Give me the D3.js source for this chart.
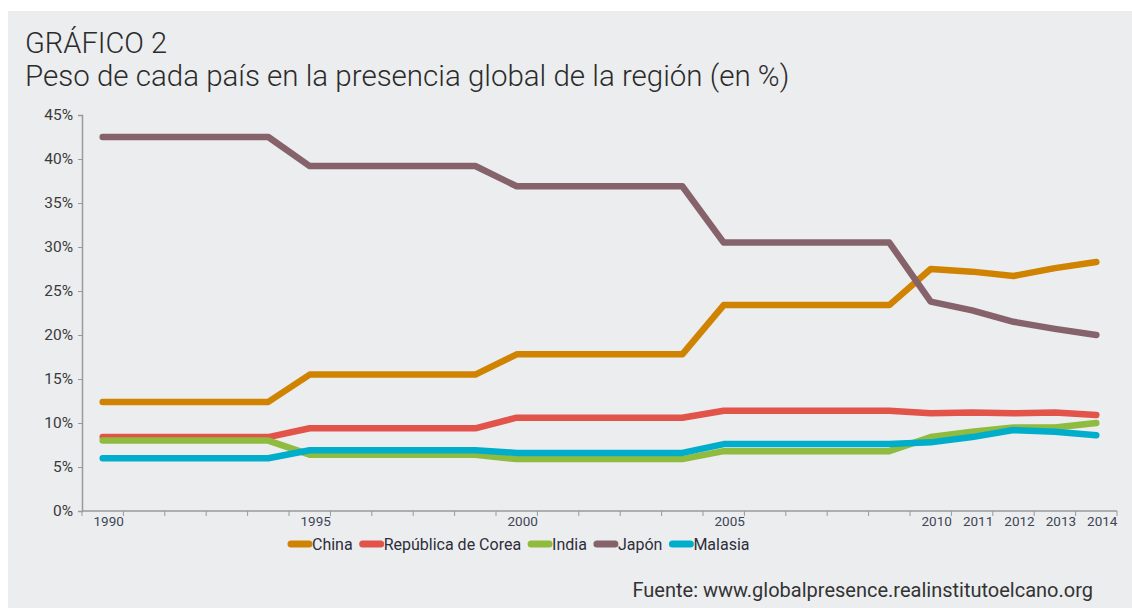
<!DOCTYPE html>
<html>
<head>
<meta charset="utf-8">
<script src="https://cdn.jsdelivr.net/npm/d3@7"></script>
<style>
  body { margin: 0; background: #fff; }
  svg { display: block; font-family: Roboto, "Noto Sans", sans-serif; }
</style>
</head>
<body>
<div id="chart"></div>
<script>
// years on the category axis
let years = [1990, 1991, 1992, 1993, 1994, 1995, 1996, 1997, 1998, 1999,
             2000, 2001, 2002, 2003, 2004, 2005, 2006, 2007, 2008, 2009,
             2010, 2011, 2012, 2013, 2014];
let yearLabels = [1990, 1995, 2000, 2005, 2010, 2011, 2012, 2013, 2014];

// share of global presence (%)
let china   = [12.4, 12.4, 12.4, 12.4, 12.4, 15.5, 15.5, 15.5, 15.5, 15.5,
               17.8, 17.8, 17.8, 17.8, 17.8, 23.4, 23.4, 23.4, 23.4, 23.4,
               27.5, 27.2, 26.7, 27.6, 28.3];
let corea   = [8.4, 8.4, 8.4, 8.4, 8.4, 9.4, 9.4, 9.4, 9.4, 9.4,
               10.6, 10.6, 10.6, 10.6, 10.6, 11.4, 11.4, 11.4, 11.4, 11.4,
               11.1, 11.2, 11.1, 11.2, 10.9];
let india   = [8.0, 8.0, 8.0, 8.0, 8.0, 6.4, 6.4, 6.4, 6.4, 6.4,
               5.9, 5.9, 5.9, 5.9, 5.9, 6.8, 6.8, 6.8, 6.8, 6.8,
               8.4, 9.0, 9.5, 9.5, 10.0];
let japon   = [42.5, 42.5, 42.5, 42.5, 42.5, 39.2, 39.2, 39.2, 39.2, 39.2,
               36.9, 36.9, 36.9, 36.9, 36.9, 30.5, 30.5, 30.5, 30.5, 30.5,
               23.8, 22.8, 21.5, 20.7, 20.0];
let malasia = [6.0, 6.0, 6.0, 6.0, 6.0, 6.9, 6.9, 6.9, 6.9, 6.9,
               6.6, 6.6, 6.6, 6.6, 6.6, 7.6, 7.6, 7.6, 7.6, 7.6,
               7.8, 8.4, 9.2, 9.0, 8.6];

let seriesNames = ["China", "República de Corea", "India", "Japón", "Malasia"];
let seriesColors = ["#D08300", "#E2534A", "#8FBB3E", "#86636A", "#00AECB"];
let yTicks = [0, 5, 10, 15, 20, 25, 30, 35, 40, 45];

let width = 1132, height = 608;
let series = [china, corea, india, japon, malasia];

let svg = d3.select("#chart").append("svg")
    .attr("width", width)
    .attr("height", height);

// grey panel
svg.append("rect")
    .attr("x", 8).attr("y", 11)
    .attr("width", width - 8).attr("height", height - 11)
    .attr("fill", "#ECEDEF");

// titles
svg.append("text")
    .attr("x", 25).attr("y", 53)
    .attr("font-size", "29px")
    .attr("font-weight", 300)
    .attr("fill", "#2b2b2b")
    .text("GRÁFICO 2");
svg.append("text")
    .attr("x", 25).attr("y", 86)
    .attr("font-size", "29.5px")
    .attr("font-weight", 300)
    .attr("fill", "#2b2b2b")
    .text("Peso de cada país en la presencia global de la región (en %)");

let x = d3.scaleBand()
    .domain(years)
    .range([82, 1117])
    .padding(0);

let y = d3.scaleLinear()
    .domain([0, 45])
    .range([511, 115]);

// y axis
let yAxis = svg.append("g")
    .attr("transform", "translate(82,0)")
    .call(d3.axisLeft(y).tickValues(yTicks).tickSize(4).tickPadding(5).tickFormat(d => d + "%"));
yAxis.select(".domain").attr("stroke", "#9a9a9a").attr("stroke-width", 1.5);
yAxis.selectAll(".tick line").attr("stroke", "#9a9a9a");
yAxis.selectAll("text").attr("font-size", "15.5px").attr("fill", "#3a3a3a")
    .attr("font-family", "Roboto, sans-serif");

// x axis: ticks on band edges
let xg = svg.append("g");
xg.append("line")
    .attr("x1", 82).attr("x2", 1117)
    .attr("y1", 511).attr("y2", 511)
    .attr("stroke", "#9a9a9a").attr("stroke-width", 1.5);
xg.selectAll("line.tk")
    .data(years.concat([null]))
    .join("line")
    .attr("class", "tk")
    .attr("x1", (d, i) => x.range()[0] + i * x.step())
    .attr("x2", (d, i) => x.range()[0] + i * x.step())
    .attr("y1", 511).attr("y2", 516)
    .attr("stroke", "#9a9a9a");
xg.selectAll("text")
    .data(yearLabels)
    .join("text")
    .attr("x", d => x(d) + x.bandwidth() / 2 + 6)
    .attr("y", 526)
    .attr("text-anchor", "middle")
    .attr("font-size", "13.5px")
    .attr("fill", "#3d4656")
    .text(d => d);

// lines
let line = d3.line()
    .x((d, i) => x(years[i]) + x.bandwidth() / 2)
    .y(d => y(d));

svg.append("g")
    .selectAll("path")
    .data(series)
    .join("path")
    .attr("d", line)
    .attr("fill", "none")
    .attr("stroke", (d, i) => seriesColors[i])
    .attr("stroke-width", 6.5)
    .attr("stroke-linejoin", "round")
    .attr("stroke-linecap", "round");

// legend
let legend = svg.append("g").attr("transform", "translate(288,544)");
let lx = 0;
seriesNames.forEach((name, i) => {
    legend.append("line")
        .attr("x1", lx + 3).attr("x2", lx + 21)
        .attr("y1", 0).attr("y2", 0)
        .attr("stroke", seriesColors[i])
        .attr("stroke-width", 7)
        .attr("stroke-linecap", "round");
    let t = legend.append("text")
        .attr("x", lx + 24)
        .attr("y", 5.5)
        .attr("font-size", "16px")
        .attr("fill", "#2e2e3a")
        .text(name);
    lx += 24 + t.node().getComputedTextLength() + 7;
});

// source
svg.append("text")
    .attr("x", 1093).attr("y", 597)
    .attr("text-anchor", "end")
    .attr("font-size", "20px")
    .attr("fill", "#333")
    .text("Fuente: www.globalpresence.realinstitutoelcano.org");
</script>
</body>
</html>
